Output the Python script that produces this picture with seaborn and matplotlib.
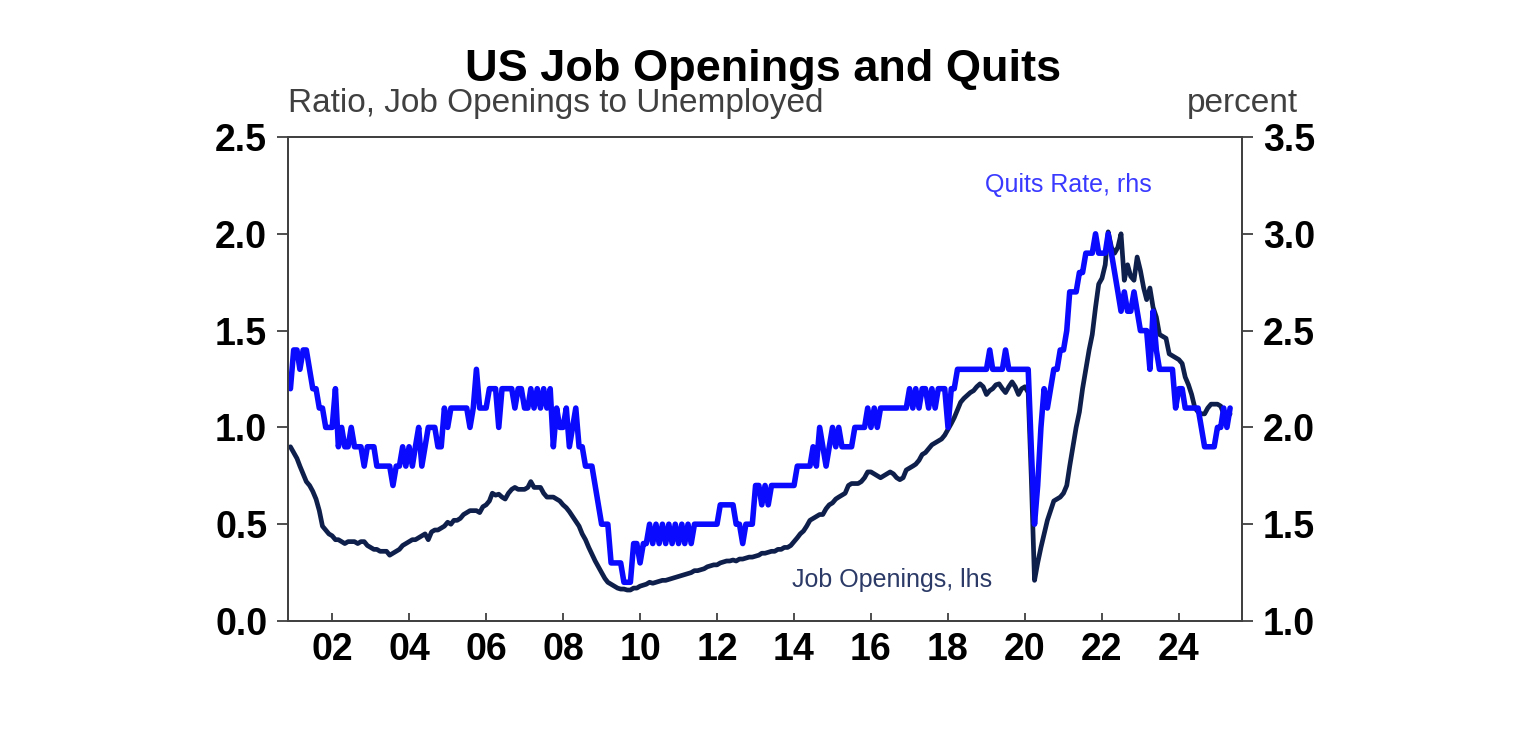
import pandas as pd
import numpy as np
import matplotlib
matplotlib.use("Agg")
import matplotlib.pyplot as plt
import seaborn as sns

# ------------------------------------------------------------------------
# Data: monthly, Dec 2000 to May 2025
# ------------------------------------------------------------------------
start_month = "2000-12-01"

# ratio of job openings to unemployed (lhs)
openings_ratio = [
    0.90,
    0.87, 0.84, 0.80, 0.76, 0.72, 0.70, 0.67, 0.63, 0.57, 0.49, 0.47, 0.45,  # 2001
    0.44, 0.42, 0.42, 0.41, 0.40, 0.41, 0.41, 0.41, 0.40, 0.41, 0.41, 0.39,  # 2002
    0.38, 0.37, 0.37, 0.36, 0.36, 0.36, 0.34, 0.35, 0.36, 0.37, 0.39, 0.40,  # 2003
    0.41, 0.42, 0.42, 0.43, 0.44, 0.45, 0.42, 0.46, 0.47, 0.47, 0.48, 0.49,  # 2004
    0.51, 0.50, 0.52, 0.52, 0.53, 0.55, 0.56, 0.57, 0.57, 0.57, 0.56, 0.59,  # 2005
    0.60, 0.62, 0.66, 0.65, 0.655, 0.64, 0.63, 0.66, 0.68, 0.69, 0.68, 0.68,  # 2006
    0.68, 0.69, 0.72, 0.69, 0.69, 0.69, 0.66, 0.64, 0.64, 0.64, 0.63, 0.62,  # 2007
    0.60, 0.585, 0.565, 0.54, 0.515, 0.49, 0.45, 0.42, 0.38, 0.345, 0.31, 0.28,  # 2008
    0.25, 0.22, 0.20, 0.19, 0.18, 0.17, 0.165, 0.165, 0.16, 0.16, 0.17, 0.17,  # 2009
    0.18, 0.185, 0.19, 0.20, 0.195, 0.20, 0.205, 0.21, 0.21, 0.215, 0.22, 0.225,  # 2010
    0.23, 0.235, 0.24, 0.245, 0.25, 0.26, 0.26, 0.265, 0.27, 0.28, 0.285, 0.29,  # 2011
    0.29, 0.30, 0.305, 0.31, 0.31, 0.315, 0.31, 0.32, 0.32, 0.325, 0.33, 0.33,  # 2012
    0.335, 0.34, 0.35, 0.35, 0.355, 0.36, 0.36, 0.37, 0.37, 0.38, 0.38, 0.39,  # 2013
    0.41, 0.43, 0.45, 0.465, 0.49, 0.52, 0.53, 0.54, 0.55, 0.55, 0.58, 0.60,  # 2014
    0.61, 0.63, 0.64, 0.65, 0.66, 0.70, 0.71, 0.71, 0.71, 0.72, 0.74, 0.77,  # 2015
    0.77, 0.76, 0.75, 0.74, 0.75, 0.76, 0.77, 0.76, 0.74, 0.73, 0.74, 0.78,  # 2016
    0.79, 0.80, 0.81, 0.83, 0.86, 0.87, 0.89, 0.91, 0.92, 0.93, 0.94, 0.96,  # 2017
    0.99, 1.02, 1.05, 1.09, 1.13, 1.15, 1.165, 1.18, 1.19, 1.21, 1.225, 1.21,  # 2018
    1.17, 1.19, 1.20, 1.22, 1.225, 1.20, 1.18, 1.21, 1.235, 1.21, 1.17, 1.20,  # 2019
    1.21, 1.18, 0.75, 0.21, 0.30, 0.38, 0.45, 0.52, 0.57, 0.62, 0.63, 0.64,  # 2020
    0.66, 0.70, 0.80, 0.90, 1.00, 1.08, 1.20, 1.30, 1.40, 1.48, 1.62, 1.74,  # 2021
    1.77, 1.84, 2.01, 1.93, 1.90, 1.93, 2.00, 1.76, 1.84, 1.78, 1.76, 1.88,  # 2022
    1.81, 1.72, 1.66, 1.72, 1.62, 1.57, 1.48, 1.47, 1.46, 1.38, 1.37, 1.36,  # 2023
    1.35, 1.33, 1.26, 1.22, 1.17, 1.10, 1.08, 1.07, 1.07, 1.10, 1.12, 1.12,  # 2024
    1.12, 1.11, 1.07, 1.05, 1.07,  # 2025
]

# quits rate, percent (rhs)
quits_rate = [
    2.2,
    2.4, 2.4, 2.3, 2.4, 2.4, 2.3, 2.2, 2.2, 2.1, 2.1, 2.0, 2.0,  # 2001
    2.0, 2.2, 1.9, 2.0, 1.9, 1.9, 2.0, 1.9, 1.9, 1.9, 1.8, 1.9,  # 2002
    1.9, 1.9, 1.8, 1.8, 1.8, 1.8, 1.8, 1.7, 1.8, 1.8, 1.9, 1.8,  # 2003
    1.9, 1.8, 1.9, 2.0, 1.8, 1.9, 2.0, 2.0, 2.0, 1.9, 1.9, 2.1,  # 2004
    2.0, 2.1, 2.1, 2.1, 2.1, 2.1, 2.1, 2.0, 2.1, 2.3, 2.1, 2.1,  # 2005
    2.1, 2.2, 2.2, 2.2, 2.0, 2.2, 2.2, 2.2, 2.2, 2.1, 2.2, 2.2,  # 2006
    2.1, 2.1, 2.2, 2.1, 2.2, 2.1, 2.2, 2.1, 2.2, 1.9, 2.1, 2.0,  # 2007
    2.0, 2.1, 1.9, 2.0, 2.1, 1.9, 1.9, 1.8, 1.8, 1.8, 1.7, 1.6,  # 2008
    1.5, 1.5, 1.5, 1.3, 1.3, 1.3, 1.3, 1.2, 1.2, 1.2, 1.4, 1.4,  # 2009
    1.3, 1.4, 1.4, 1.5, 1.4, 1.5, 1.4, 1.5, 1.4, 1.5, 1.4, 1.5,  # 2010
    1.4, 1.5, 1.4, 1.5, 1.4, 1.5, 1.5, 1.5, 1.5, 1.5, 1.5, 1.5,  # 2011
    1.5, 1.6, 1.6, 1.6, 1.6, 1.6, 1.5, 1.5, 1.4, 1.5, 1.5, 1.5,  # 2012
    1.7, 1.7, 1.6, 1.7, 1.6, 1.7, 1.7, 1.7, 1.7, 1.7, 1.7, 1.7,  # 2013
    1.7, 1.8, 1.8, 1.8, 1.8, 1.8, 1.9, 1.8, 2.0, 1.9, 1.8, 1.9,  # 2014
    2.0, 1.9, 2.0, 1.9, 1.9, 1.9, 1.9, 2.0, 2.0, 2.0, 2.0, 2.1,  # 2015
    2.0, 2.1, 2.0, 2.1, 2.1, 2.1, 2.1, 2.1, 2.1, 2.1, 2.1, 2.1,  # 2016
    2.2, 2.1, 2.2, 2.1, 2.2, 2.2, 2.1, 2.2, 2.1, 2.2, 2.2, 2.2,  # 2017
    2.0, 2.2, 2.2, 2.3, 2.3, 2.3, 2.3, 2.3, 2.3, 2.3, 2.3, 2.3,  # 2018
    2.3, 2.4, 2.3, 2.3, 2.3, 2.3, 2.4, 2.3, 2.3, 2.3, 2.3, 2.3,  # 2019
    2.3, 2.3, 1.9, 1.5, 1.7, 2.0, 2.2, 2.1, 2.2, 2.3, 2.3, 2.4,  # 2020
    2.4, 2.5, 2.7, 2.7, 2.7, 2.8, 2.8, 2.9, 2.9, 2.9, 3.0, 2.9,  # 2021
    2.9, 2.9, 3.0, 2.9, 2.8, 2.7, 2.6, 2.7, 2.6, 2.6, 2.7, 2.6,  # 2022
    2.5, 2.5, 2.5, 2.3, 2.6, 2.4, 2.3, 2.3, 2.3, 2.3, 2.3, 2.1,  # 2023
    2.2, 2.2, 2.1, 2.1, 2.1, 2.1, 2.1, 2.0, 1.9, 1.9, 1.9, 1.9,  # 2024
    2.0, 2.0, 2.1, 2.0, 2.1,  # 2025
]

tick_years = list(range(2002, 2025, 2))
tick_labels = [f"{y % 100:02d}" for y in tick_years]
left_ticks = [0.0, 0.5, 1.0, 1.5, 2.0, 2.5]
right_ticks = [1.0, 1.5, 2.0, 2.5, 3.0, 3.5]

dates = pd.date_range(start_month, periods=len(quits_rate), freq="MS")
df_ratio = pd.DataFrame({"date": dates[:len(openings_ratio)], "ratio": openings_ratio})
df_quits = pd.DataFrame({"date": dates, "quits": quits_rate})

# ------------------------------------------------------------------------
# Plot
# ------------------------------------------------------------------------
sns.set_theme(style="white")
plt.rcParams["font.family"] = ["Liberation Sans", "DejaVu Sans"]

navy = "#0f1f4b"
blue = "#0a0aff"
spine_col = "#404040"

fig = plt.figure(figsize=(15.36, 7.43), dpi=100)
ax = fig.add_axes([0.1875, 0.1642, 0.6211, 0.6514])
ax2 = ax.twinx()

sns.lineplot(data=df_ratio, x="date", y="ratio", ax=ax, color=navy, linewidth=3.4)
sns.lineplot(data=df_quits, x="date", y="quits", ax=ax2, color=blue, linewidth=4.0)

ax.set_xlim(pd.Timestamp("2000-11-08"), pd.Timestamp("2025-08-22"))
ax.set_ylim(0, 2.5)
ax2.set_ylim(1.0, 3.5)

ax.set_xticks([pd.Timestamp(f"{y}-01-01") for y in tick_years])
ax.set_xticklabels(tick_labels)
ax.set_yticks(left_ticks)
ax.set_yticklabels([f"{v:.1f}" for v in left_ticks])
ax2.set_yticks(right_ticks)
ax2.set_yticklabels([f"{v:.1f}" for v in right_ticks])

ax.set_xlabel("")
ax.set_ylabel("")
ax2.set_ylabel("")
ax.grid(False)
ax2.grid(False)

ax.tick_params(axis="x", direction="in", length=6, width=1.3, pad=8,
               labelsize=27, colors=spine_col, labelcolor="black", bottom=True)
ax.tick_params(axis="y", direction="out", length=8, width=1.3, pad=7,
               labelsize=27, colors=spine_col, labelcolor="black", left=True)
ax2.tick_params(axis="y", direction="out", length=8, width=1.3, pad=7,
                labelsize=27, colors=spine_col, labelcolor="black", right=True)

for lbl in ax.get_xticklabels() + ax.get_yticklabels() + ax2.get_yticklabels():
    lbl.set_fontweight("bold")

for a in (ax, ax2):
    for s in a.spines.values():
        s.set_visible(True)
        s.set_color(spine_col)
        s.set_linewidth(1.3)

# titles and labels
fig.text(0.497, 0.906, "US Job Openings and Quits", ha="center", va="center",
         fontsize=32.5, fontweight="bold", color="black")
fig.text(0.1875, 0.861, "Ratio, Job Openings to Unemployed", ha="left", va="center",
         fontsize=24, color="#404040")
fig.text(0.845, 0.861, "percent", ha="right", va="center", fontsize=24, color="#404040")
fig.text(0.6953, 0.751, "Quits Rate, rhs", ha="center", va="center",
         fontsize=18, color="#3a3aff")
fig.text(0.5807, 0.2194, "Job Openings, lhs", ha="center", va="center",
         fontsize=18, color="#2b3a66")

fig.savefig("out.png", dpi=100)
plt.close(fig)
